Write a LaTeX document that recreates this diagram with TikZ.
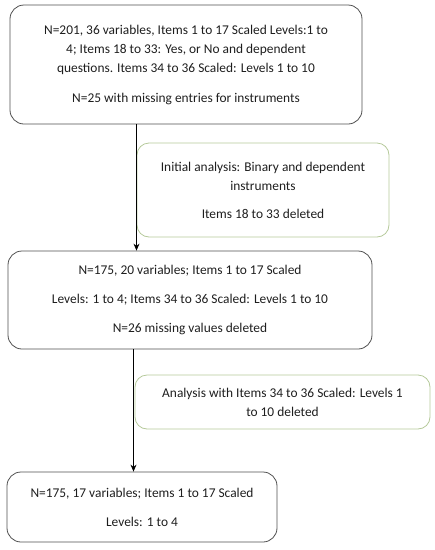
\documentclass[tikz,border=0pt]{standalone}
\usepackage{fontspec}
\setmainfont{Carlito}
\usetikzlibrary{arrows.meta}
\definecolor{boxgray}{RGB}{80,80,80}
\definecolor{boxgreen}{RGB}{181,201,154}
\definecolor{txt}{RGB}{30,30,30}
\begin{document}
\begin{tikzpicture}[x=1pt,y=-1pt,
  txtfont/.style={font=\fontsize{13.4}{19}\selectfont, text=txt},
  graybox/.style={draw=boxgray, line width=0.8pt, rounded corners=14pt, align=center, inner sep=0pt, txtfont},
  greenbox/.style={draw=boxgreen, line width=0.8pt, rounded corners=12pt, align=center, inner sep=0pt, txtfont},
  arr/.style={-{Stealth[length=7pt,width=6pt]}, line width=1pt, black}]
\useasboundingbox (0,0) rectangle (435,550);
\node[graybox, minimum width=352pt, minimum height=119pt] (b1) at (186,64.5)
 {N=201, 36 variables, Items 1 to 17 Scaled Levels:1 to\\4; Items 18 to 33: Yes, or No and dependent\\questions. Items 34 to 36 Scaled: Levels 1 to 10\\[11pt]N=25 with missing entries for instruments};
\node[greenbox, minimum width=252pt, minimum height=94pt] (g1) at (263,190)
 {Initial analysis: Binary and dependent\\instruments\\[9pt]Items 18 to 33 deleted};
\node[graybox, minimum width=364pt, minimum height=98pt] (b2) at (190,300)
 {N=175, 20 variables; Items 1 to 17 Scaled\\[10pt]Levels: 1 to 4; Items 34 to 36 Scaled: Levels 1 to 10\\[10pt]N=26 missing values deleted};
\node[greenbox, minimum width=295pt, minimum height=54pt] (g2) at (282.5,402)
 {Analysis with Items 34 to 36 Scaled: Levels 1\\to 10 deleted};
\node[graybox, minimum width=270pt, minimum height=70pt] (b3) at (142,507)
 {N=175, 17 variables; Items 1 to 17 Scaled\\[10pt]Levels: 1 to 4};
\coordinate (a1) at (136.5,0);
\coordinate (a2) at (133.5,0);
\draw[arr] (b1.south -| a1) -- (b2.north -| a1);
\draw[arr] (b2.south -| a2) -- (b3.north -| a2);
\end{tikzpicture}
\end{document}
